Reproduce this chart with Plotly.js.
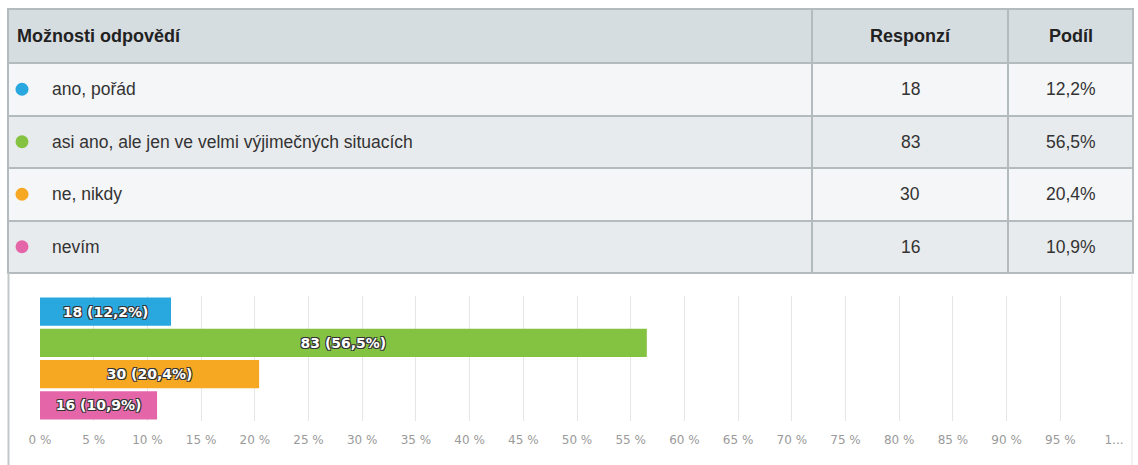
<!DOCTYPE html>
<html>
<head>
<meta charset="utf-8">
<script src="https://cdn.plot.ly/plotly-3.0.1.min.js"></script>
<style>
html,body{margin:0;padding:0;background:#fff;}
#chart{width:1138px;height:465px;}
</style>
</head>
<body>
<div id="chart"></div>
<script>
const categories = ["ano, pořád", "asi ano, ale jen ve velmi výjimečných situacích", "ne, nikdy", "nevím"];
const responses = [18, 83, 30, 16];
const shares = [12.2, 56.5, 20.4, 10.9];
const colors = ["#29a8e0", "#84c341", "#f7a823", "#e466a8"];
const headers = ["Možnosti odpovědí", "Responzí", "Podíl"];
const tickValues = [0,5,10,15,20,25,30,35,40,45,50,55,60,65,70,75,80,85,90,95,100];
const tickLabels = ["0 %","5 %","10 %","15 %","20 %","25 %","30 %","35 %","40 %","45 %","50 %","55 %","60 %","65 %","70 %","75 %","80 %","85 %","90 %","95 %","1..."];

const W = 1138, H = 465;
const fmt = v => v.toFixed(1).replace(".", ",");
const px = x => x / W;
const py = y => 1 - y / H;

// table geometry (pixels)
const tTop = 9, headH = 54, rowH = 52.5;
const colEdges = [8, 812, 1008, 1133];
const tableFont = "Liberation Sans, Arial, sans-serif";

const rowFills = categories.map((c, i) => i % 2 === 0 ? "#f5f6f7" : "#e8ebed");
const blanks = categories.map(() => "");

const table = {
  type: "table",
  domain: {x: [px(colEdges[0]), px(colEdges[3])], y: [0, py(tTop)]},
  columnwidth: [colEdges[1] - colEdges[0], colEdges[2] - colEdges[1], colEdges[3] - colEdges[2]],
  header: {
    values: ["", "", ""],
    height: headH,
    fill: {color: "#d6dde1"},
    line: {color: "#b4bbbf", width: 2}
  },
  cells: {
    values: [blanks, blanks, blanks],
    height: rowH,
    fill: {color: [rowFills, rowFills, rowFills]},
    line: {color: "#b4bbbf", width: 2}
  }
};

const annotations = [];
const shapes = [];
const headY = tTop + headH / 2;
const colCenters = [null, (colEdges[1] + colEdges[2]) / 2, (colEdges[2] + colEdges[3]) / 2];
const headFont = {family: tableFont, size: 18, color: "#222222", weight: "bold"};
const cellFont = {family: tableFont, size: 17.5, color: "#333333"};

headers.forEach((h, j) => {
  annotations.push({
    xref: "paper", yref: "paper", showarrow: false,
    x: j === 0 ? px(15) : px(colCenters[j]), xanchor: j === 0 ? "left" : "center",
    y: py(headY), yanchor: "middle",
    text: "<b>" + h + "</b>", font: headFont
  });
});

categories.forEach((c, i) => {
  const cy = tTop + headH + rowH * i + rowH / 2;
  annotations.push({xref: "paper", yref: "paper", showarrow: false, x: px(50), xanchor: "left", y: py(cy), yanchor: "middle", text: c, font: cellFont});
  annotations.push({xref: "paper", yref: "paper", showarrow: false, x: px(colCenters[1]), xanchor: "center", y: py(cy), yanchor: "middle", text: String(responses[i]), font: cellFont});
  annotations.push({xref: "paper", yref: "paper", showarrow: false, x: px(colCenters[2]), xanchor: "center", y: py(cy), yanchor: "middle", text: fmt(shares[i]) + "%", font: cellFont});
  shapes.push({type: "circle", xref: "paper", yref: "paper", x0: px(15.5), x1: px(28.5), y0: py(cy + 6.5), y1: py(cy - 6.5), fillcolor: colors[i], line: {width: 0}});
});

shapes.push({type: "line", xref: "paper", yref: "paper", x0: px(8.5), x1: px(8.5), y0: 0, y1: py(273), line: {color: "#c3c8cb", width: 2}});
shapes.push({type: "line", xref: "paper", yref: "paper", x0: px(1132), x1: px(1132), y0: 0, y1: py(273), line: {color: "#e2e5e7", width: 1}});

const bars = {
  type: "bar",
  orientation: "h",
  y: categories,
  x: shares,
  marker: {color: colors},
  text: responses.map((r, i) => r + " (" + fmt(shares[i]) + "%)"),
  textposition: "inside",
  insidetextanchor: "middle",
  constraintext: "none",
  textfont: {
    family: "DejaVu Sans, sans-serif", size: 14, color: "#ffffff", weight: "bold",
    shadow: "-1px -1px 0 #333, 1px -1px 0 #333, -1px 1px 0 #333, 1px 1px 0 #333"
  },
  hoverinfo: "skip",
  cliponaxis: false
};

const layout = {
  width: W, height: H,
  margin: {l: 0, r: 0, t: 0, b: 0},
  paper_bgcolor: "#ffffff",
  plot_bgcolor: "rgba(0,0,0,0)",
  showlegend: false,
  bargap: 0.09,
  xaxis: {
    domain: [px(40), px(1114)],
    range: [0, 100],
    tickvals: tickValues,
    ticktext: tickLabels,
    showgrid: true,
    gridcolor: "#e6e6e6",
    gridwidth: 1,
    zeroline: false,
    showline: false,
    ticks: "",
    ticklabelstandoff: 10,
    tickfont: {family: "DejaVu Sans, sans-serif", size: 12, color: "#9a9a9a"},
    fixedrange: true
  },
  yaxis: {
    domain: [py(421), py(296)],
    autorange: "reversed",
    showticklabels: false,
    showgrid: false,
    zeroline: false,
    fixedrange: true
  },
  shapes: shapes,
  annotations: annotations
};

Plotly.newPlot("chart", [table, bars], layout, {staticPlot: true, displayModeBar: false});
</script>
</body>
</html>
